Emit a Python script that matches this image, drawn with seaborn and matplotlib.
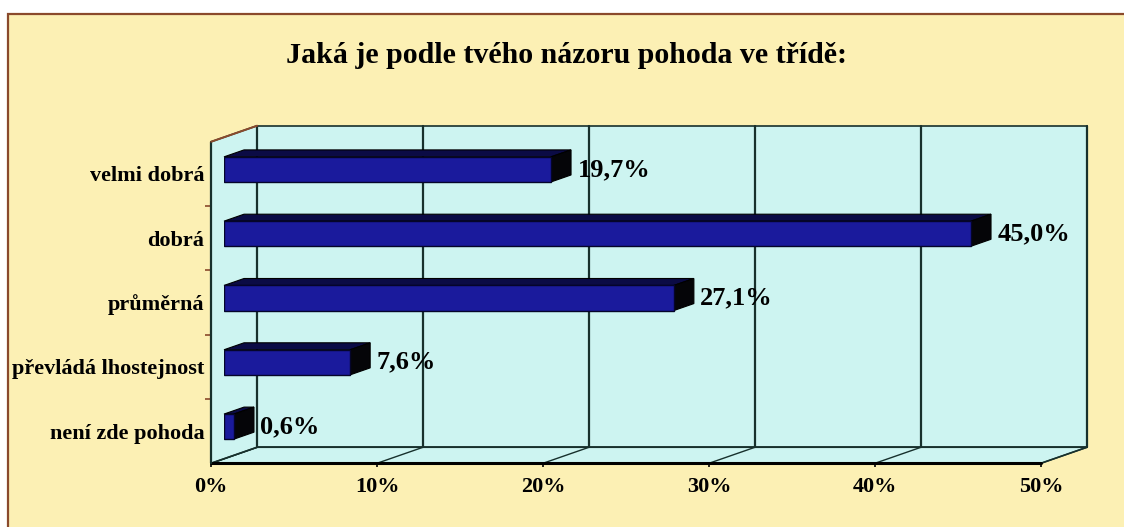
import matplotlib
matplotlib.use("Agg")
import matplotlib.pyplot as plt
import matplotlib.transforms as mtransforms
from matplotlib.patches import Polygon, Rectangle
import seaborn as sns

# Data
categories = ["velmi dobrá", "dobrá", "průměrná", "převládá lhostejnost", "není zde pohoda"]
values = [19.7, 45.0, 27.1, 7.6, 0.6]
x_ticks = [0, 10, 20, 30, 40, 50]
title = "Jaká je podle tvého názoru pohoda ve třídě:"

# Colours
YELLOW = "#fcf0b4"
BROWN = "#8a4a2c"
CYAN = "#cdf4f1"
BAR_FRONT = "#1a1a9c"
BAR_TOP = "#0b0b45"
BAR_SIDE = "#050508"
LINE = "#17302c"

sns.set_style("white")
plt.rcParams["font.family"] = ["Liberation Serif", "DejaVu Serif"]
plt.rcParams["text.color"] = "black"
plt.rcParams["xtick.labelcolor"] = "black"
plt.rcParams["ytick.labelcolor"] = "black"

W, H, DPI = 1124, 527, 100
fig = plt.figure(figsize=(W / DPI, H / DPI), dpi=DPI)
fig.patch.set_facecolor("white")

# yellow panel with brown frame
fig.add_artist(Rectangle((8 / W, -0.02), 1.1, (H - 14) / H + 0.02,
                         transform=fig.transFigure, facecolor=YELLOW,
                         edgecolor=BROWN, lw=1.6, zorder=-5))

# axes = plane of the bar front faces
ax_left, ax_right = 224, 1054
ax_top, ax_bot = 137.25, 458.75
ax = fig.add_axes([ax_left / W, (H - ax_bot) / H, (ax_right - ax_left) / W, (ax_bot - ax_top) / H])
ax.set_facecolor("none")

sns.barplot(x=values, y=categories, orient="h", color=BAR_FRONT, width=0.39,
            edgecolor="#05052a", linewidth=1.0, saturation=1, ax=ax, zorder=3)
ax.set_xlim(0, 50)
ax.set_ylim(4.5, -0.5)
for s in ax.spines.values():
    s.set_visible(False)

# depth vector (pixels) and its data units
px_x = (ax_right - ax_left) / 50
px_y = (ax_bot - ax_top) / 5
DEPTH = (46, 16)
DX, DY = DEPTH[0] / px_x, -DEPTH[1] / px_y
K_FRONT, K_BACK, K_BAR = -0.28, 0.72, 0.435


def sh(x, y, k):
    return (x + k * DX, y + k * DY)


xmin, xmax = 0, 50
ytop, ybot = -0.5, 4.5

bar_patches = list(ax.patches)

# walls and floor
back = [sh(xmin, ytop, K_BACK), sh(xmax, ytop, K_BACK), sh(xmax, ybot, K_BACK), sh(xmin, ybot, K_BACK)]
floor = [sh(xmin, ybot, K_FRONT), sh(xmax, ybot, K_FRONT), sh(xmax, ybot, K_BACK), sh(xmin, ybot, K_BACK)]
left = [sh(xmin, ytop, K_FRONT), sh(xmin, ybot, K_FRONT), sh(xmin, ybot, K_BACK), sh(xmin, ytop, K_BACK)]
for poly in (back, floor, left):
    ax.add_patch(Polygon(poly, closed=True, facecolor=CYAN, edgecolor=LINE,
                         lw=1.2, zorder=0, clip_on=False))

# gridlines on back wall and floor diagonals
for t in x_ticks:
    x0, y0 = sh(t, ytop, K_BACK)
    x1, y1 = sh(t, ybot, K_BACK)
    ax.plot([x0, x1], [y0, y1], color=LINE, lw=1.6, zorder=1, clip_on=False)
    fx, fy = sh(t, ybot, K_FRONT)
    ax.plot([fx, x1], [fy, y1], color=LINE, lw=1.0, zorder=1, clip_on=False)

# front axis line and left axis line
fx0, fy0 = sh(xmin, ybot, K_FRONT)
fx1, fy1 = sh(xmax, ybot, K_FRONT)
ax.plot([fx0, fx1], [fy0, fy1], color="black", lw=2.2, zorder=2, clip_on=False)
lx0, ly0 = sh(xmin, ytop, K_FRONT)
ax.plot([lx0, fx0], [ly0, fy0], color=LINE, lw=1.6, zorder=2, clip_on=False)
bx0, by0 = sh(xmin, ytop, K_BACK)
ax.plot([lx0, bx0], [ly0, by0], color=BROWN, lw=1.4, zorder=2, clip_on=False)

# 3D top and side faces of bars
for p in bar_patches:
    x0, y0, w, h = p.get_x(), p.get_y(), p.get_width(), p.get_height()
    bdx, bdy = K_BAR * DX, K_BAR * DY
    top = [(x0, y0), (x0 + w, y0), (x0 + w + bdx, y0 + bdy), (x0 + bdx, y0 + bdy)]
    side = [(x0 + w, y0), (x0 + w, y0 + h), (x0 + w + bdx, y0 + h + bdy), (x0 + w + bdx, y0 + bdy)]
    ax.add_patch(Polygon(top, closed=True, facecolor=BAR_TOP, edgecolor="black", lw=0.8, zorder=2.5, clip_on=False))
    ax.add_patch(Polygon(side, closed=True, facecolor=BAR_SIDE, edgecolor="black", lw=0.8, zorder=2.5, clip_on=False))

# value labels
labels = [f"{v:.1f}%".replace(".", ",") for v in values]
ax.bar_label(ax.containers[0], labels=labels, padding=19, fontsize=19,
             fontweight="bold", color="black")

# ticks
ax.set_xticks(x_ticks)
ax.set_xticklabels([f"{t}%" for t in x_ticks], fontsize=16, fontweight="bold")
ax.set_yticks(range(len(categories)))
ax.set_yticklabels(categories, fontsize=16, fontweight="bold")
ax.set_yticks([0.5, 1.5, 2.5, 3.5], minor=True)
ax.tick_params(axis="x", which="major", bottom=True, length=3, width=1.2, color="black", pad=7)
ax.tick_params(axis="y", which="major", left=False, length=0, pad=5)
ax.tick_params(axis="y", which="minor", left=True, length=4, width=1.2, color=BROWN)
ax.set_xlabel("")
ax.set_ylabel("")

front_off = mtransforms.ScaledTranslation(K_FRONT * DEPTH[0] / DPI, K_FRONT * DEPTH[1] / DPI,
                                          fig.dpi_scale_trans)
for tick in ax.xaxis.get_major_ticks() + ax.yaxis.get_major_ticks() + ax.yaxis.get_minor_ticks():
    tick.tick1line.set_transform(tick.tick1line.get_transform() + front_off)
    tick.label1.set_transform(tick.label1.get_transform() + front_off)

fig.text(0.504, 1 - 56 / H, title, ha="center", va="center", fontsize=21.5, fontweight="bold",
         color="black")

fig.savefig("out.png", dpi=DPI)
